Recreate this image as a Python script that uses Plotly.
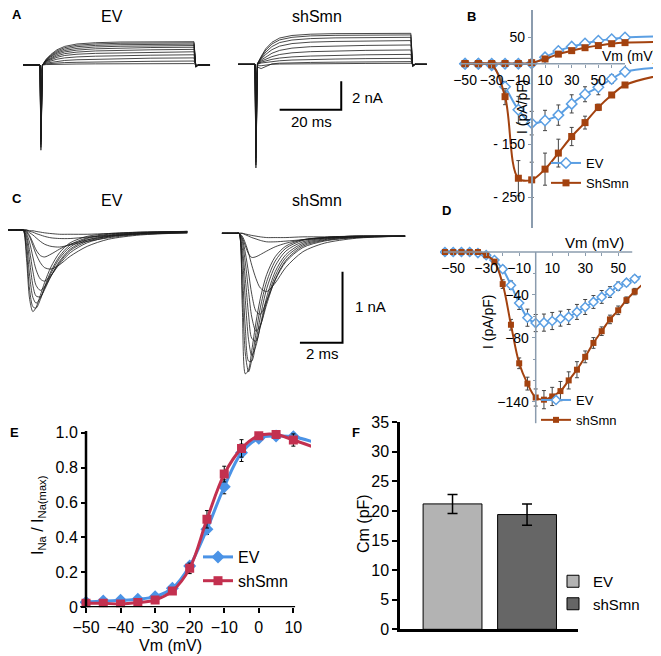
import plotly.graph_objects as go

# target canvas is 661x656; the page body adds an 8px offset, so the figure is 8px smaller
W, H = 661, 656
OFF = 8
PW, PH = W - OFF, H - OFF
FONT = "Liberation Sans, Arial, sans-serif"

# ---- A: whole-cell currents, time (ms) / current (nA) ----
a_ev_t = [-5.5, 0, 0.3, 0.8, 2, 3.5, 5.5, 8, 12, 18, 26, 36, 50.0, 50.6, 51.4, 55.2]
a_ev_i = [
    [0, 0, -6.0, 0, 0.41, 0.74, 1.07, 1.31, 1.48, 1.57, 1.62, 1.63, 1.64, -0.15, 0, 0],
    [0, 0, -5.8, 0, 0.38, 0.68, 0.99, 1.22, 1.39, 1.48, 1.53, 1.55, 1.56, -0.15, 0, 0],
    [0, 0, -5.6, 0, 0.35, 0.62, 0.91, 1.12, 1.29, 1.38, 1.43, 1.46, 1.47, -0.14, 0, 0],
    [0, 0, -5.4, 0, 0.32, 0.57, 0.83, 1.02, 1.17, 1.27, 1.32, 1.35, 1.37, -0.13, 0, 0],
    [0, 0, -5.2, 0, 0.30, 0.51, 0.74, 0.92, 1.05, 1.14, 1.20, 1.23, 1.25, -0.12, 0, 0],
    [0, 0, -5.0, 0, 0.27, 0.45, 0.64, 0.80, 0.91, 0.99, 1.04, 1.07, 1.10, -0.10, 0, 0],
    [0, 0, -4.6, 0, 0.23, 0.37, 0.54, 0.67, 0.76, 0.82, 0.86, 0.90, 0.93, -0.09, 0, 0],
    [0, 0, -4.0, 0, 0.18, 0.29, 0.41, 0.50, 0.57, 0.62, 0.66, 0.69, 0.72, -0.07, 0, 0],
    [0, 0, -3.0, 0, 0.13, 0.19, 0.26, 0.32, 0.37, 0.41, 0.45, 0.48, 0.50, -0.05, 0, 0],
    [0, 0, -1.8, 0, 0.08, 0.11, 0.14, 0.17, 0.19, 0.22, 0.24, 0.26, 0.28, -0.03, 0, 0],
    [0, 0, -0.6, 0, 0.03, 0.04, 0.05, 0.06, 0.07, 0.08, 0.08, 0.09, 0.10, -0.01, 0, 0],
]
a_sh_t = [-5.5, 0, 0.3, 0.8, 2, 3.5, 5.5, 8, 12, 18, 26, 36, 50.6, 51.2, 52, 55.8]
a_sh_i = [
    [0, 0, -7.3, 0.05, 0.55, 1.10, 1.55, 1.85, 2.03, 2.12, 2.16, 2.17, 2.18, -0.15, 0, 0],
    [0, 0, -7.1, 0.05, 0.50, 1.00, 1.43, 1.72, 1.90, 2.00, 2.04, 2.06, 2.07, -0.15, 0, 0],
    [0, 0, -6.9, 0.04, 0.44, 0.86, 1.25, 1.53, 1.71, 1.81, 1.86, 1.88, 1.90, -0.14, 0, 0],
    [0, 0, -6.6, 0.03, 0.37, 0.70, 1.03, 1.28, 1.46, 1.56, 1.61, 1.65, 1.67, -0.13, 0, 0],
    [0, 0, -6.2, 0.02, 0.30, 0.53, 0.78, 0.98, 1.14, 1.24, 1.30, 1.33, 1.36, -0.11, 0, 0],
    [0, 0, -5.7, 0.01, 0.22, 0.37, 0.54, 0.69, 0.81, 0.89, 0.94, 0.98, 1.01, -0.09, 0, 0],
    [0, 0, -5.0, 0, 0.15, 0.24, 0.35, 0.44, 0.52, 0.58, 0.63, 0.67, 0.70, -0.07, 0, 0],
    [0, 0, -4.0, 0, 0.09, 0.14, 0.20, 0.25, 0.30, 0.34, 0.37, 0.40, 0.42, -0.05, 0, 0],
    [0, 0, -2.5, -0.2, -0.3, -0.15, 0.03, 0.08, 0.11, 0.13, 0.15, 0.17, 0.19, -0.03, 0, 0],
    [0, 0, -1.0, -0.1, -0.1, -0.05, 0, 0.02, 0.03, 0.04, 0.05, 0.06, 0.07, -0.01, 0, 0],
]
a_bar_t = [8, 28, 28]
a_bar_i = [-3.2, -3.2, -1.2]

# ---- B: I-V, mV / pA/pF (last point lies past the cropped edge) ----
b_v = [-50, -40, -30, -20, -10, 0, 10, 20, 30, 40, 50, 60, 70, 110]
b_ev_out = [0, 0, 0, 0, 0, 0.5, 12, 24, 32, 38, 43, 46, 49, 52]
b_sh_out = [0.5, 0.5, 0.5, 0.5, 0.5, 2, 9, 18, 24.5, 30, 34, 37.5, 39.5, 41.5]
b_ev_in = [0, 0, -3, -43, -86, -111, -106, -96, -75, -57, -44, -28.5, -15, -5]
b_sh_in = [0, 0, -2, -61.5, -214, -217, -197, -167, -136, -110, -81.5, -58.4, -39.7, -15]
b_ev_err = [0, 0, 0, 10, 25, 22, 19, 19, 17, 14, 14, 8, 5, 0]
b_sh_err = [0, 0, 0, 15, 33, 33, 30, 26, 17, 12, 6, 4, 3, 0]

# ---- C: Na currents, ms / nA ----
c_t = [-0.8, -0.1, 0, 0.15, 0.3, 0.45, 0.6, 0.8, 1.0, 1.3, 1.7, 2.2, 3.0, 4.0, 5.5, 7.7]
c_ev_i = [
    [0, 0, 0, -0.40, -0.98, -1.15, -1.09, -0.92, -0.74, -0.52, -0.32, -0.18, -0.09, -0.05, -0.03, -0.02],
    [0, 0, 0, -0.30, -0.85, -1.08, -1.10, -0.98, -0.80, -0.58, -0.37, -0.21, -0.11, -0.06, -0.03, -0.02],
    [0, 0, 0, -0.20, -0.65, -0.95, -1.03, -0.96, -0.82, -0.61, -0.40, -0.24, -0.12, -0.07, -0.04, -0.02],
    [0, 0, 0, -0.12, -0.45, -0.78, -0.93, -0.94, -0.84, -0.65, -0.44, -0.27, -0.14, -0.08, -0.04, -0.02],
    [0, 0, 0, -0.08, -0.30, -0.58, -0.78, -0.85, -0.80, -0.65, -0.46, -0.29, -0.16, -0.09, -0.05, -0.03],
    [0, 0, 0, -0.05, -0.18, -0.38, -0.56, -0.69, -0.72, -0.64, -0.48, -0.32, -0.18, -0.10, -0.05, -0.03],
    [0, 0, 0, -0.03, -0.10, -0.22, -0.34, -0.46, -0.53, -0.55, -0.49, -0.37, -0.23, -0.13, -0.07, -0.04],
    [0, 0, 0, -0.02, -0.08, -0.18, -0.28, -0.36, -0.38, -0.34, -0.27, -0.20, -0.14, -0.09, -0.06, -0.04],
    [0, 0, 0, -0.01, -0.04, -0.07, -0.11, -0.16, -0.20, -0.23, -0.24, -0.21, -0.16, -0.11, -0.06, -0.04],
    [0, 0, 0, 0, -0.02, -0.03, -0.05, -0.07, -0.09, -0.11, -0.12, -0.12, -0.10, -0.08, -0.05, -0.03],
    [0, 0, 0, 0, -0.01, -0.01, -0.02, -0.03, -0.04, -0.05, -0.06, -0.06, -0.06, -0.05, -0.04, -0.03],
]
c_sh_t = [-0.8, -0.1, 0, 0.15, 0.3, 0.45, 0.6, 0.8, 1.0, 1.3, 1.7, 2.2, 3.0, 4.0, 5.5, 7.8]
c_sh_i = [
    [0, 0, 0, -1.00, -1.98, -1.92, -1.65, -1.25, -0.92, -0.58, -0.33, -0.18, -0.09, -0.06, -0.04, -0.04],
    [0, 0, 0, -0.75, -1.70, -1.95, -1.78, -1.40, -1.05, -0.68, -0.39, -0.21, -0.10, -0.06, -0.04, -0.04],
    [0, 0, 0, -0.50, -1.35, -1.80, -1.80, -1.52, -1.18, -0.78, -0.46, -0.25, -0.12, -0.07, -0.05, -0.04],
    [0, 0, 0, -0.30, -0.95, -1.50, -1.72, -1.58, -1.30, -0.90, -0.54, -0.30, -0.14, -0.08, -0.05, -0.04],
    [0, 0, 0, -0.20, -0.65, -1.15, -1.48, -1.52, -1.32, -0.96, -0.60, -0.34, -0.16, -0.09, -0.05, -0.04],
    [0, 0, 0, -0.12, -0.42, -0.82, -1.18, -1.38, -1.30, -1.00, -0.65, -0.38, -0.18, -0.10, -0.06, -0.04],
    [0, 0, 0, -0.08, -0.28, -0.56, -0.86, -1.10, -1.14, -0.95, -0.66, -0.40, -0.20, -0.11, -0.06, -0.04],
    [0, 0, 0, -0.04, -0.14, -0.28, -0.45, -0.64, -0.77, -0.82, -0.70, -0.48, -0.26, -0.14, -0.07, -0.04],
    [0, 0, 0, -0.06, -0.18, -0.29, -0.34, -0.33, -0.30, -0.25, -0.19, -0.14, -0.09, -0.06, -0.04, -0.04],
    [0, 0, 0, 0, -0.02, -0.04, -0.06, -0.08, -0.10, -0.12, -0.12, -0.11, -0.09, -0.07, -0.05, -0.04],
    [0, 0, 0, 0, -0.01, -0.02, -0.03, -0.04, -0.05, -0.06, -0.06, -0.06, -0.05, -0.05, -0.04, -0.04],
]
c_bar_t = [2.86, 4.86, 4.86]
c_bar_i = [-1.54, -1.54, -0.54]

# ---- D: Na I-V, mV / pA/pF (last point past the cropped edge) ----
d_v = [-55, -50, -45, -40, -35, -30, -25, -20, -15, -10, -5, 0, 5, 10, 15, 20, 25, 30,
       35, 40, 45, 50, 55, 60, 70]
d_ev = [0, 0, 0, 0, -1, -3, -7.5, -16, -31, -47.7, -61.4, -66.4, -66, -64.5, -62.3, -60.7,
        -56, -51.4, -46.7, -42, -37.4, -32, -28.7, -25, -19]
d_sh = [0, 0, 0, 0, 0, -3, -9, -30, -68, -104, -123, -136, -138, -135, -130, -120, -110,
        -98, -85, -74, -63, -54.5, -45, -37, -23]
d_ev_err = [0, 0, 0, 0, 0, 1, 2, 3, 4, 6, 8, 8, 8, 8, 7, 7, 7, 7, 6, 6, 5, 4, 3, 3, 0]
d_sh_err = [0, 0, 0, 0, 0, 1, 2, 4, 5, 5, 6, 8, 8.5, 8.5, 9, 8, 7.5, 5.5, 5, 4, 4, 4, 3, 3, 0]

# ---- E: normalised activation (last point past the cropped edge) ----
e_v = [-50, -45, -40, -35, -30, -25, -20, -15, -10, -5, 0, 5, 10, 20]
e_ev = [0.029, 0.036, 0.040, 0.046, 0.061, 0.109, 0.237, 0.447, 0.69, 0.885, 0.968, 0.981, 0.977, 0.92]
e_sh = [0.023, 0.023, 0.019, 0.027, 0.042, 0.094, 0.223, 0.504, 0.763, 0.91, 0.983, 0.99, 0.958, 0.89]
e_ev_err = [0.01, 0.01, 0.01, 0.01, 0.01, 0.015, 0.02, 0.03, 0.04, 0.05, 0.01, 0.01, 0.02, 0]
e_sh_err = [0.01, 0.01, 0.01, 0.01, 0.01, 0.015, 0.03, 0.05, 0.045, 0.05, 0.01, 0.01, 0.035, 0]

# ---- F: membrane capacitance ----
f_groups = ["EV", "shSmn"]
f_cm = [21.2, 19.4]
f_err = [1.6, 1.8]
f_colors = ["#b3b3b3", "#666666"]

BLUE, BROWN = "#5b9fe3", "#a3420f"
E_BLUE, E_RED = "#4b93e6", "#c3304f"
AXC = "#8b9cae"
TR = "#1a1a1a"


def fx(x):
    return (x - OFF) / PW


def fy(y):
    return 1 - (y - OFF) / PH


def dom_x(a, b):
    return [fx(a), fx(b)]


def dom_y(top, bottom):
    return [fy(bottom), fy(top)]


def rng_x(a, b, zero, k):
    return [(a - zero) / k, (b - zero) / k]


def rng_y(top, bottom, zero, k):
    return [(zero - bottom) / k, (zero - top) / k]


fig = go.Figure()


def traces(t, rows, ax, spline=False):
    for row in rows:
        fig.add_trace(go.Scatter(
            x=t, y=row, mode="lines", xaxis="x" + ax, yaxis="y" + ax,
            line=dict(color=TR, width=0.8, shape="spline" if spline else "linear",
                      smoothing=0.8),
            showlegend=False, hoverinfo="skip"))


traces(a_ev_t, a_ev_i, "")
traces(a_sh_t, a_sh_i, "2")
fig.add_trace(go.Scatter(x=a_bar_t, y=a_bar_i, mode="lines", xaxis="x2", yaxis="y2",
                         line=dict(color="black", width=2), showlegend=False))
traces(c_t, c_ev_i, "4", spline=True)
traces(c_sh_t, c_sh_i, "5", spline=True)
fig.add_trace(go.Scatter(x=c_bar_t, y=c_bar_i, mode="lines", xaxis="x5", yaxis="y5",
                         line=dict(color="black", width=2), showlegend=False))

# B
ev_marker = dict(symbol="diamond", size=8, color="white", line=dict(color=BLUE, width=1.5))
sh_marker = dict(symbol="square", size=7, color=BROWN)
err_style = dict(type="data", thickness=1, width=2, color="#444")
fig.add_trace(go.Scatter(x=b_v, y=b_ev_in, mode="lines+markers", xaxis="x3", yaxis="y3",
                         line=dict(color=BLUE, width=2, shape="spline"), marker=ev_marker,
                         error_y=dict(array=b_ev_err, **err_style),
                         name="EV", legend="legend", legendgroup="bev"))
fig.add_trace(go.Scatter(x=b_v, y=b_ev_out, mode="lines+markers", xaxis="x3", yaxis="y3",
                         line=dict(color=BLUE, width=2, shape="spline"), marker=ev_marker,
                         showlegend=False, legendgroup="bev"))
fig.add_trace(go.Scatter(x=b_v, y=b_sh_out, mode="lines+markers", xaxis="x3", yaxis="y3",
                         line=dict(color=BROWN, width=2, shape="spline"), marker=sh_marker,
                         showlegend=False, legendgroup="bsh"))
fig.add_trace(go.Scatter(x=b_v, y=b_sh_in, mode="lines+markers", xaxis="x3", yaxis="y3",
                         line=dict(color=BROWN, width=2, shape="spline"), marker=sh_marker,
                         error_y=dict(array=b_sh_err, **err_style),
                         name="ShSmn", legend="legend", legendgroup="bsh"))

# D
fig.add_trace(go.Scatter(x=d_v, y=d_ev, mode="lines+markers", xaxis="x6", yaxis="y6",
                         line=dict(color=BLUE, width=2, shape="spline"),
                         marker=dict(symbol="diamond", size=7, color="white",
                                     line=dict(color=BLUE, width=1.5)),
                         error_y=dict(array=d_ev_err, **err_style),
                         name="EV", legend="legend2"))
fig.add_trace(go.Scatter(x=d_v, y=d_sh, mode="lines+markers", xaxis="x6", yaxis="y6",
                         line=dict(color=BROWN, width=2, shape="spline"),
                         marker=dict(symbol="square", size=6, color=BROWN),
                         error_y=dict(array=d_sh_err, **err_style),
                         name="shSmn", legend="legend2"))

# E
e_err = dict(type="data", thickness=1, width=2, color="black")
fig.add_trace(go.Scatter(x=e_v, y=e_ev, mode="lines+markers", xaxis="x7", yaxis="y7",
                         line=dict(color=E_BLUE, width=3, shape="spline"),
                         marker=dict(symbol="diamond", size=10, color=E_BLUE),
                         error_y=dict(array=e_ev_err, **e_err),
                         name="EV", legend="legend3"))
fig.add_trace(go.Scatter(x=e_v, y=e_sh, mode="lines+markers", xaxis="x7", yaxis="y7",
                         line=dict(color=E_RED, width=3, shape="spline"),
                         marker=dict(symbol="square", size=9, color=E_RED),
                         error_y=dict(array=e_sh_err, **e_err),
                         name="shSmn", legend="legend3"))

# F
for g, v, e, c in zip(f_groups, f_cm, f_err, f_colors):
    fig.add_trace(go.Bar(x=[g], y=[v], xaxis="x8", yaxis="y8", width=0.79,
                         marker=dict(color=c, line=dict(color="black", width=1)),
                         error_y=dict(type="data", array=[e], thickness=1.5, width=5,
                                      color="black"),
                         name=g, legend="legend4"))

hid = dict(visible=False, showgrid=False, zeroline=False, automargin=False)
base = dict(showgrid=False, zeroline=False, automargin=False)
tickfont_b = dict(family=FONT, size=14, color="black")
tickfont_e = dict(family=FONT, size=16, color="black")
minor_b = dict(ticks="outside", ticklen=3, tickcolor=AXC, showgrid=False)

# E: y=1.0 sits at 432.7px, y=0 at 607.3px; domain reaches a bit higher so markers are not cut
e_k = (607.3 - 432.7)
layout_axes = dict(
    xaxis=dict(domain=dom_x(8, 225), range=rng_x(8, 225, 40, 3.08), anchor="y", **hid),
    yaxis=dict(domain=dom_y(22, 175), range=rng_y(22, 175, 65, 14.2), anchor="x", **hid),
    xaxis2=dict(domain=dom_x(225, 440), range=rng_x(225, 440, 255, 3.08), anchor="y2", **hid),
    yaxis2=dict(domain=dom_y(22, 175), range=rng_y(22, 175, 64.3, 14.2), anchor="x2", **hid),
    xaxis4=dict(domain=dom_x(8, 215), range=rng_x(8, 215, 23.3, 21.3), anchor="y4", **hid),
    yaxis4=dict(domain=dom_y(212, 330), range=rng_y(212, 330, 230, 71), anchor="x4", **hid),
    xaxis5=dict(domain=dom_x(215, 440), range=rng_x(215, 440, 239, 21.3), anchor="y5", **hid),
    yaxis5=dict(domain=dom_y(212, 385), range=rng_y(212, 385, 233.3, 71), anchor="x5", **hid),
    xaxis3=dict(domain=dom_x(452, 661), range=rng_x(452, 661, 531.7, 1.333),
                anchor="free", position=fy(63.75), showline=False,
                ticks="outside", ticklen=3, tickcolor=AXC,
                tickvals=[-50, -30, -10, 10, 30, 50],
                minor=dict(tickvals=[-40, -20, 20, 40, 60, 70], **minor_b),
                tickfont=tickfont_b, **base),
    yaxis3=dict(domain=dom_y(10, 228), range=rng_y(10, 228, 63.75, 0.535),
                anchor="free", position=fx(531.7),
                showline=True, linecolor=AXC, linewidth=1.5, ticks="outside", ticklen=3,
                tickcolor=AXC, tickvals=[50, -150, -250],
                ticktext=["50", "- 150", "- 250"], tickfont=tickfont_b, **base),
    xaxis6=dict(domain=dom_x(440, 641), range=rng_x(440, 641, 535.7, 1.65),
                anchor="free", position=fy(252), showline=False,
                ticks="outside", ticklen=3, tickcolor=AXC,
                tickvals=[-50, -30, -10, 10, 30, 50],
                minor=dict(tickvals=[-40, -20, 20, 40], **minor_b),
                tickfont=tickfont_b, **base),
    yaxis6=dict(domain=dom_y(240, 428), range=rng_y(240, 428, 252, 1.07),
                anchor="free", position=fx(535.7), showline=False,
                ticks="outside", ticklen=4, tickcolor=AXC,
                tickvals=[-40, -80, -140],
                minor=dict(tickvals=[-20, -60, -100, -120, -160], **minor_b),
                tickfont=tickfont_b, **base),
    xaxis7=dict(domain=dom_x(80, 311), range=rng_x(80, 311, 258.8, 3.456), anchor="y7",
                showline=False, ticks="outside", ticklen=5,
                tickwidth=2, tickcolor="black", tickvals=[-50, -40, -30, -20, -10, 0, 10],
                tickfont=tickfont_e, **base),
    yaxis7=dict(domain=dom_y(420, 607.3), range=[0, (607.3 - 420) / e_k], anchor="free",
                position=fx(86), showline=False, ticks="outside", ticklen=5, tickwidth=2,
                tickcolor="black", tickvals=[0, 0.2, 0.4, 0.6, 0.8, 1.0],
                ticktext=["0", "0.2", "0.4", "0.6", "0.8", "1.0"], tickfont=tickfont_e,
                **base),
    xaxis8=dict(domain=dom_x(400, 578), range=[-0.705, 1.684], anchor="y8",
                showline=True, linecolor="black",
                linewidth=2.5, showticklabels=False, ticks="", **base),
    yaxis8=dict(domain=dom_y(422.3, 629.3), range=[0, 35], anchor="x8",
                showline=True, linecolor="black",
                linewidth=2.5, ticks="outside", ticklen=5, tickwidth=2, tickcolor="black",
                tickvals=[0, 5, 10, 15, 20, 25, 30, 35], tickfont=tickfont_e, **base),
)

shapes = [
    dict(type="line", xref="x3", yref="y3", x0=-53.5, x1=70, y0=0, y1=0,
         line=dict(color=AXC, width=1.5)),
    dict(type="line", xref="x6", yref="y6", x0=-56, x1=58.5, y0=0, y1=0,
         line=dict(color=AXC, width=1.5)),
    dict(type="line", xref="x6", yref="y6", x0=0, x1=0, y0=0, y1=-160,
         line=dict(color=AXC, width=1.5)),
    dict(type="line", xref="x7", yref="y7", x0=-51.7, x1=10.5, y0=0, y1=0,
         line=dict(color="black", width=2.5)),
    dict(type="line", xref="x7", yref="y7", x0=-50, x1=-50, y0=0, y1=1.01,
         line=dict(color="black", width=2.5)),
]


def txt(x, y, s, size=16, bold=False, angle=0, xanchor="center"):
    return dict(x=fx(x), y=fy(y), xref="paper", yref="paper", text=s, showarrow=False,
                textangle=angle, xanchor=xanchor, yanchor="middle",
                font=dict(family=FONT, size=size, color="black",
                          weight="bold" if bold else "normal"))


annotations = [
    txt(17, 14, "A", 13, True), txt(471, 16, "B", 13, True), txt(17, 199, "C", 13, True),
    txt(446, 211, "D", 13, True), txt(14, 432, "E", 13, True), txt(356, 432, "F", 13, True),
    txt(112, 16, "EV"), txt(317, 16, "shSmn"), txt(112, 200, "EV"), txt(317, 200, "shSmn"),
    txt(350, 97, "2 nA", 15, xanchor="left"), txt(311, 121, "20 ms", 15),
    txt(353, 306, "1 nA", 15, xanchor="left"), txt(322, 353, "2 ms", 15),
    txt(659, 56, "Vm (mV)", 14, xanchor="right"),
    txt(522, 107, "I (pA/pF)", 14, angle=-90),
    txt(594, 243, "Vm (mV)", 15),
    txt(488, 322, "I (pA/pF)", 14, angle=-90),
    txt(38, 515, "I<sub>Na</sub> / I<sub>Na(max)</sub>", 16, angle=-90),
    txt(170, 645, "Vm (mV)", 16),
    txt(363, 524, "Cm (pF)", 16, angle=-90),
]


def leg(x, y, size):
    return dict(x=fx(x), y=fy(y), xanchor="left", yanchor="top",
                bgcolor="rgba(0,0,0,0)", itemwidth=30, tracegroupgap=0,
                font=dict(family=FONT, size=size, color="black"))


fig.update_layout(
    width=PW, height=PH, margin=dict(l=0, r=0, t=0, b=0),
    paper_bgcolor="white", plot_bgcolor="white", barmode="overlay",
    showlegend=True,
    legend=leg(546, 148, 13), legend2=leg(536, 385, 13),
    legend3=leg(198, 540, 16), legend4=leg(553, 565, 15),
    shapes=shapes, annotations=annotations, **layout_axes,
)

fig.write_html("out.html")
